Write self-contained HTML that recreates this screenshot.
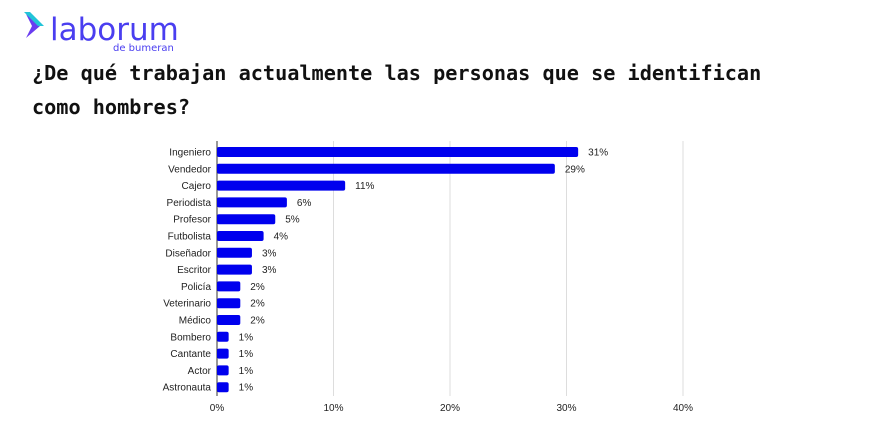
<!DOCTYPE html>
<html><head><meta charset="utf-8"><style>
body{margin:0;background:#fff;width:871px;height:433px;overflow:hidden}
</style></head><body>
<svg width="871" height="433" xmlns="http://www.w3.org/2000/svg" font-family="Liberation Sans, sans-serif">
<path d="M26 14 L40 26 L26 38 L32 26 Z" fill="#6a3cf0"/>
<path d="M24 12 L30 12 L44 26 L38 26 Z" fill="#22c4d8"/>
<text x="50" y="40" font-size="31" fill="#4a3ef0" font-family="DejaVu Sans, sans-serif">laborum</text>
<text x="113" y="51" font-size="10" fill="#4a3ef0" font-family="DejaVu Sans, sans-serif">de bumeran</text>
<text x="32" y="80" font-size="20.2" font-weight="bold" font-family="DejaVu Sans Mono, monospace" fill="#111">¿De qué trabajan actualmente las personas que se identifican</text>
<text x="32" y="114" font-size="20.2" font-weight="bold" font-family="DejaVu Sans Mono, monospace" fill="#111">como hombres?</text>
<g stroke="#ddd" stroke-width="1">
<line x1="333.5" y1="141" x2="333.5" y2="396"/><line x1="450" y1="141" x2="450" y2="396"/>
<line x1="566.5" y1="141" x2="566.5" y2="396"/><line x1="683" y1="141" x2="683" y2="396"/>
</g>
<line x1="217" y1="141" x2="217" y2="396" stroke="#333"/>
<g font-size="10" fill="#222">
<text x="217" y="411" text-anchor="middle">0%</text><text x="333.5" y="411" text-anchor="middle">10%</text>
<text x="450" y="411" text-anchor="middle">20%</text><text x="566.5" y="411" text-anchor="middle">30%</text>
<text x="683" y="411" text-anchor="middle">40%</text>
</g>
<g id="bars" font-size="10" fill="#222"></g>
</svg>
<script>
var d=[["Ingeniero",31],["Vendedor",29],["Cajero",11],["Periodista",6],["Profesor",5],["Futbolista",4],["Diseñador",3],["Escritor",3],["Policía",2],["Veterinario",2],["Médico",2],["Bombero",1],["Cantante",1],["Actor",1],["Astronauta",1]];
var g=document.getElementById('bars'),s='';
d.forEach(function(r,i){var y=152+i*16.8;var w=r[1]*11.65;
s+='<text x="211" y="'+(y+3.5)+'" text-anchor="end">'+r[0]+'</text>';
s+='<rect x="217" y="'+(y-5)+'" width="'+w+'" height="10" rx="2" fill="#0000ee"/>';
s+='<text x="'+(217+w+10)+'" y="'+(y+3.5)+'">'+r[1]+'%</text>';});
g.innerHTML=s;
</script>
</body></html>
